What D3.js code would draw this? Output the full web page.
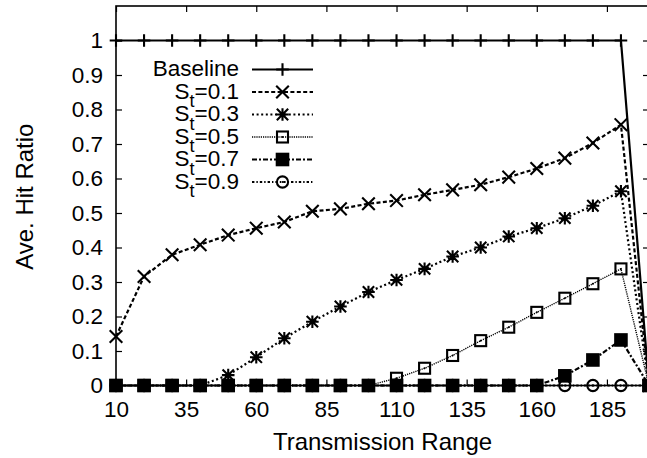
<!DOCTYPE html>
<html>
<head>
<meta charset="utf-8">
<script src="https://cdn.jsdelivr.net/npm/d3@7"></script>
<style>
  html, body { margin: 0; padding: 0; background: #fff; overflow: hidden; }
  svg { display: block; font-family: "Liberation Sans", Arial, Helvetica, sans-serif; }
</style>
</head>
<body>
<svg id="chart" width="647" height="458"></svg>
<script>
// ---- data ----
const ranges = [10, 20, 30, 40, 50, 60, 70, 80, 90, 100, 110, 120, 130, 140, 150, 160, 170, 180, 190, 200];
const xTicks = [10, 35, 60, 85, 110, 135, 160, 185];
const yTicks = [0, 0.1, 0.2, 0.3, 0.4, 0.5, 0.6, 0.7, 0.8, 0.9, 1];
const yTickLabels = ["0", "0.1", "0.2", "0.3", "0.4", "0.5", "0.6", "0.7", "0.8", "0.9", "1"];
const seriesNames = ["Baseline", "0.1", "0.3", "0.5", "0.7", "0.9"];
const baseline = [1, 1, 1, 1, 1, 1, 1, 1, 1, 1, 1, 1, 1, 1, 1, 1, 1, 1, 1, 0];
const st01 = [0.142, 0.316, 0.379, 0.408, 0.436, 0.456, 0.474, 0.505, 0.512, 0.527, 0.536, 0.553, 0.567, 0.582, 0.604, 0.629, 0.659, 0.703, 0.756, 0];
const st03 = [0, 0, 0, 0, 0.030, 0.082, 0.137, 0.185, 0.229, 0.271, 0.306, 0.338, 0.374, 0.400, 0.432, 0.456, 0.485, 0.521, 0.563, 0];
const st05 = [0, 0, 0, 0, 0, 0, 0, 0, 0, 0, 0.021, 0.050, 0.087, 0.130, 0.169, 0.212, 0.253, 0.295, 0.338, 0];
const st07 = [0, 0, 0, 0, 0, 0, 0, 0, 0, 0, 0, 0, 0, 0, 0, 0, 0.028, 0.074, 0.132, 0];
const st09 = [0, 0, 0, 0, 0, 0, 0, 0, 0, 0, 0, 0, 0, 0, 0, 0, 0, 0, 0, 0];
const seriesValues = [baseline, st01, st03, st05, st07, st09];

// ---- styles ----
const styles = [
  { dash: null,          width: 2.2, marker: "plus" },
  { dash: "4,2.4",       width: 2.2, marker: "cross" },
  { dash: "2,2.6",       width: 2.2, marker: "star" },
  { dash: "1.2,1",       width: 1.4, marker: "square" },
  { dash: "5,2,2,2",     width: 2.2, marker: "fsquare" },
  { dash: "2.4,2,1.4,2", width: 2.0, marker: "circle" }
];

const svg = d3.select("#chart");
const mLeft = 116, mRight = 649, mTop = 6, mBottom = 385.5;
const x = d3.scaleLinear().domain([10, 200]).range([mLeft, mRight]);
const y = d3.scaleLinear().domain([0, 1.1]).range([mBottom, mTop]);

// ---- axes ----
const tickLen = 6;
const axG = svg.append("g");
const yAxisL = d3.axisLeft(y).tickValues(yTicks).tickSize(-tickLen).tickPadding(13)
  .tickFormat((d, i) => yTickLabels[i]);
const yAxisR = d3.axisRight(y).tickValues(yTicks).tickSize(-tickLen).tickFormat("");
const xAxisB = d3.axisBottom(x).tickValues(xTicks).tickSize(-tickLen).tickPadding(16)
  .tickFormat(d3.format("d"));
const xAxisT = d3.axisTop(x).tickValues(xTicks).tickSize(-tickLen).tickFormat("");

function styleAxis(g) {
  g.select(".domain").remove();
  g.selectAll(".tick line").attr("stroke", "#000").attr("stroke-width", 1.2);
  g.selectAll(".tick text").attr("fill", "#000").attr("font-size", 22.5)
    .attr("font-family", "Liberation Sans, Arial, sans-serif");
}
axG.append("g").attr("transform", `translate(${mLeft},0)`).call(yAxisL).call(styleAxis);
axG.append("g").attr("transform", `translate(${mRight},0)`).call(yAxisR).call(styleAxis);
axG.append("g").attr("transform", `translate(0,${mBottom})`).call(xAxisB).call(styleAxis);
axG.append("g").attr("transform", `translate(0,${mTop})`).call(xAxisT).call(styleAxis);

// frame
svg.append("rect").attr("x", mLeft).attr("y", mTop)
  .attr("width", mRight - mLeft).attr("height", mBottom - mTop)
  .attr("fill", "none").attr("stroke", "#000").attr("stroke-width", 1.6);

// axis titles
svg.append("text").attr("x", (mLeft + mRight) / 2).attr("y", 450)
  .attr("text-anchor", "middle").attr("font-size", 24).attr("fill", "#000")
  .text("Transmission Range");
svg.append("text").attr("transform", "translate(32.5,196.7) rotate(-90)")
  .attr("text-anchor", "middle").attr("font-size", 24).attr("fill", "#000")
  .text("Ave. Hit Ratio");

// ---- markers ----
function drawMarker(g, type, cx, cy) {
  const s = 6.3;
  const apply = (sel) => sel.attr("stroke", "#000").attr("stroke-width", 2.1).attr("fill", "none");
  if (type === "plus") {
    apply(g.append("path").attr("d", `M${cx - s},${cy}H${cx + s}M${cx},${cy - s}V${cy + s}`));
  } else if (type === "cross") {
    apply(g.append("path").attr("d", `M${cx - s},${cy - s}L${cx + s},${cy + s}M${cx - s},${cy + s}L${cx + s},${cy - s}`));
  } else if (type === "star") {
    const t = s * 0.9;
    apply(g.append("path").attr("d",
      `M${cx - t},${cy - t}L${cx + t},${cy + t}M${cx - t},${cy + t}L${cx + t},${cy - t}M${cx - s},${cy}H${cx + s}M${cx},${cy - s}V${cy + s}`));
  } else if (type === "square") {
    apply(g.append("rect").attr("x", cx - 5.5).attr("y", cy - 5.5).attr("width", 11).attr("height", 11));
    g.append("circle").attr("cx", cx).attr("cy", cy).attr("r", 1).attr("fill", "#000");
  } else if (type === "fsquare") {
    g.append("rect").attr("x", cx - 6.8).attr("y", cy - 6.8).attr("width", 13.6).attr("height", 13.6).attr("fill", "#000");
  } else if (type === "circle") {
    apply(g.append("circle").attr("cx", cx).attr("cy", cy).attr("r", 5.6));
    g.append("circle").attr("cx", cx).attr("cy", cy).attr("r", 1).attr("fill", "#000");
  }
}

// ---- series ----
const line = d3.line().x(d => x(d[0])).y(d => y(d[1]));
const plotG = svg.append("g");
seriesValues.forEach((vals, si) => {
  const data = ranges.map((r, i) => [r, vals[i]]);
  const g = plotG.append("g");
  const p = g.append("path").datum(data).attr("d", line)
    .attr("fill", "none").attr("stroke", "#000").attr("stroke-width", styles[si].width)
    .attr("stroke-linejoin", "miter");
  if (styles[si].dash) p.attr("stroke-dasharray", styles[si].dash);
  data.forEach(d => drawMarker(g, styles[si].marker, x(d[0]), y(d[1])));
});

// ---- legend ----
const legG = svg.append("g");
const rowY0 = 69.5, rowStep = 22.5, textX = 239, sx0 = 252, sx1 = 313, mx = 282.5;
seriesNames.forEach((name, i) => {
  const ry = rowY0 + i * rowStep;
  const t = legG.append("text").attr("x", textX).attr("y", ry + 6.8)
    .attr("text-anchor", "end").attr("font-size", 22.5).attr("fill", "#000");
  if (i === 0) {
    t.text(name);
  } else {
    t.append("tspan").text("S");
    t.append("tspan").attr("dy", 8.5).attr("font-size", 18).text("t");
    t.append("tspan").attr("dy", -8.5).text("=" + name);
  }
  const l = legG.append("line").attr("x1", sx0).attr("x2", sx1).attr("y1", ry).attr("y2", ry)
    .attr("stroke", "#000").attr("stroke-width", styles[i].width);
  if (styles[i].dash) l.attr("stroke-dasharray", styles[i].dash);
  drawMarker(legG, styles[i].marker, mx, ry);
});
</script>
</body>
</html>
